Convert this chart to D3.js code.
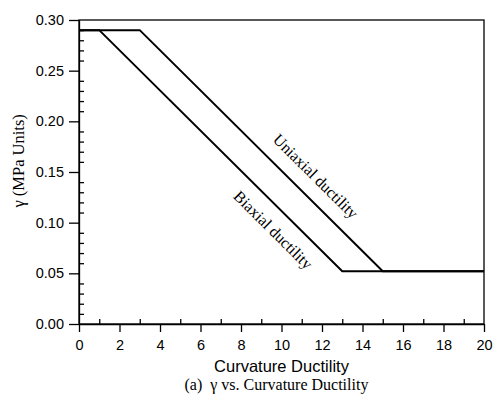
<!DOCTYPE html>
<html>
<head>
<meta charset="utf-8">
<script src="https://cdn.jsdelivr.net/npm/d3@7"></script>
<style>
  body { margin: 0; background: #fff; }
  svg { display: block; }
</style>
</head>
<body>
<div id="chart"></div>
<script>
// Data
const uniaxialX = [0, 3, 15, 20];
const uniaxialY = [0.29, 0.29, 0.052, 0.052];
const biaxialX = [0, 1, 13, 20];
const biaxialY = [0.29, 0.29, 0.052, 0.052];
const xTicks = [0, 2, 4, 6, 8, 10, 12, 14, 16, 18, 20];
const yTicks = [0, 0.05, 0.10, 0.15, 0.20, 0.25, 0.30];

const width = 495, height = 398;
const margin = { top: 20, right: 11, bottom: 74, left: 79 };

const svg = d3.select("#chart")
    .append("svg")
    .attr("width", width)
    .attr("height", height);

const x = d3.scaleLinear().domain([0, 20]).range([margin.left, width - margin.right]);
const y = d3.scaleLinear().domain([0, 0.30]).range([height - margin.bottom, margin.top]);

const sans = "Liberation Sans, Arial, sans-serif";
const serif = "Liberation Serif, Times New Roman, serif";

// Frame
svg.append("rect")
    .attr("x", x(0)).attr("y", y(0.30))
    .attr("width", x(20) - x(0)).attr("height", y(0) - y(0.30))
    .attr("fill", "none").attr("stroke", "#000").attr("stroke-width", 1.3);

// X axis: major ticks outward, minor inward
svg.append("g")
    .attr("transform", `translate(0,${y(0)})`)
    .call(d3.axisBottom(x).tickValues(xTicks).tickSize(8).tickSizeOuter(0).tickFormat(d3.format("d")))
    .call((g) => g.select(".domain").attr("stroke-width", 1.3))
    .call((g) => g.selectAll(".tick line").attr("stroke-width", 1.3))
    .call((g) => g.selectAll("text")
        .attr("font-family", sans)
        .attr("font-size", 14.5).attr("fill", "#000").attr("dy", "1em"));

svg.append("g")
    .attr("transform", `translate(0,${y(0)})`)
    .call(d3.axisTop(x).tickValues(d3.range(1, 20, 2)).tickSize(5).tickSizeOuter(0).tickFormat(""))
    .call((g) => g.select(".domain").remove())
    .call((g) => g.selectAll(".tick line").attr("stroke-width", 1.3));

// Y axis
svg.append("g")
    .attr("transform", `translate(${x(0)},0)`)
    .call(d3.axisLeft(y).tickValues(yTicks).tickSize(10).tickSizeOuter(0).tickFormat(d3.format(".2f")))
    .call((g) => g.select(".domain").attr("stroke-width", 1.3))
    .call((g) => g.selectAll(".tick line").attr("stroke-width", 1.3))
    .call((g) => g.selectAll("text")
        .attr("font-family", sans)
        .attr("font-size", 14.5).attr("fill", "#000").attr("x", -15));

const yMinor = d3.range(1, 30).filter((i) => i % 5 !== 0).map((i) => i / 100);
svg.append("g")
    .attr("transform", `translate(${x(0)},0)`)
    .call(d3.axisRight(y).tickValues(yMinor).tickSize(5).tickSizeOuter(0).tickFormat(""))
    .call((g) => g.select(".domain").remove())
    .call((g) => g.selectAll(".tick line").attr("stroke-width", 1.3));

// Lines
const line = d3.line().x((d) => x(d[0])).y((d) => y(d[1]));
const uniaxial = uniaxialX.map((v, i) => [v, uniaxialY[i]]);
const biaxial = biaxialX.map((v, i) => [v, biaxialY[i]]);

[uniaxial, biaxial].forEach((series) => {
    svg.append("path")
        .datum(series)
        .attr("d", line)
        .attr("fill", "none")
        .attr("stroke", "#000")
        .attr("stroke-width", 2);
});

// In-plot labels, rotated along the slope
const slopeAngle = Math.atan2(y(0.052) - y(0.29), x(15) - x(3)) * 180 / Math.PI;

svg.append("text")
    .attr("transform", `translate(${x(11.5)},${y(0.142)}) rotate(${slopeAngle})`)
    .attr("text-anchor", "middle")
    .attr("font-family", serif)
    .attr("font-size", 16)
    .text("Uniaxial ductility");

svg.append("text")
    .attr("transform", `translate(${x(9.4)},${y(0.089)}) rotate(${slopeAngle})`)
    .attr("text-anchor", "middle")
    .attr("font-family", serif)
    .attr("font-size", 16)
    .text("Biaxial ductility");

// Axis titles
svg.append("text")
    .attr("transform", `translate(24,${y(0.161)}) rotate(-90)`)
    .attr("text-anchor", "middle")
    .attr("font-family", serif)
    .attr("font-size", 16.5)
    .text("γ (MPa Units)");

svg.append("text")
    .attr("x", x(10))
    .attr("y", 372)
    .attr("text-anchor", "middle")
    .attr("font-family", sans)
    .attr("font-size", 16.5)
    .text("Curvature Ductility");

svg.append("text")
    .attr("x", x(9.75))
    .attr("y", 390)
    .attr("text-anchor", "middle")
    .attr("font-family", serif)
    .attr("font-size", 16)
    .style("white-space", "pre")
    .text("(a)  γ vs. Curvature Ductility");
</script>
</body>
</html>
